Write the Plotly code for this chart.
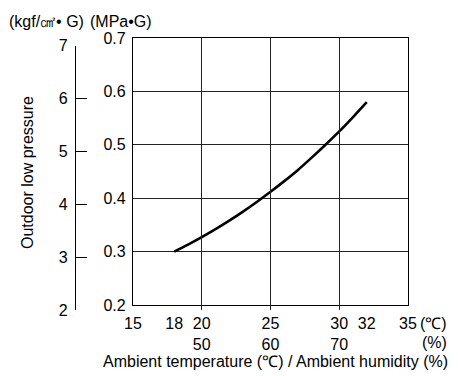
import plotly.graph_objects as go

# curve
temp_c = [18, 19, 20, 21, 22, 23, 24, 25, 26, 27, 28, 29, 30, 31, 32]
low_mpa = [0.300, 0.313, 0.327, 0.342, 0.358, 0.375, 0.393, 0.412,
           0.432, 0.453, 0.476, 0.500, 0.525, 0.552, 0.580]

x_ticks = [15, 18, 20, 25, 30, 32, 35]
x_labels = ['15', '18', '20<br>50', '25<br>60', '30<br>70', '32', '35']
x_grid = [20, 25, 30]

mpa_ticks = [0.2, 0.3, 0.4, 0.5, 0.6, 0.7]
kgf_ticks = [2, 3, 4, 5, 6, 7]
KGF_PER_MPA = 1 / 0.0981

font = dict(family='Liberation Sans, Arial, sans-serif', size=16, color='black')

fig = go.Figure()
fig.add_trace(go.Scatter(x=temp_c, y=low_mpa, mode='lines',
                         line=dict(color='black', width=2.6, shape='spline'),
                         showlegend=False, hoverinfo='skip'))
# same curve in kgf/cm2 so the second scale gets drawn (kept invisible)
fig.add_trace(go.Scatter(x=temp_c, y=[v * KGF_PER_MPA for v in low_mpa],
                         yaxis='y2', mode='lines', opacity=0,
                         line=dict(color='black', width=0),
                         showlegend=False, hoverinfo='skip'))

# page body has an 8px margin, so the figure is 8px smaller each way
fig.update_layout(
    width=450, height=368,
    margin=dict(l=67, r=50, t=30, b=66),
    paper_bgcolor='white', plot_bgcolor='rgba(0,0,0,0)',
    font=font,
    xaxis=dict(range=[15, 35], domain=[0.1742, 1],
               tickmode='array', tickvals=x_ticks, ticktext=x_labels,
               showgrid=False, zeroline=False,
               showline=True, mirror=True, linecolor='black', linewidth=1.3,
               ticks='outside', ticklen=0, ticklabelstandoff=4,
               minor=dict(tickmode='array', tickvals=x_grid, showgrid=True,
                          gridcolor='#222222', gridwidth=1.2, ticks=''),
               tickfont=font),
    yaxis=dict(range=[0.2, 0.7], domain=[0.0184, 1],
               tickmode='array', tickvals=mpa_ticks,
               ticktext=[f'{v:.1f}' for v in mpa_ticks],
               showgrid=True, gridcolor='#222222', gridwidth=1.2, zeroline=False,
               showline=True, mirror=True, linecolor='black', linewidth=1.3,
               ticks='', ticklabelstandoff=3, tickfont=font),
    yaxis2=dict(range=[2, 7], domain=[0, 0.9717],
                anchor='free', position=0, side='left',
                tickmode='array', tickvals=kgf_ticks,
                showgrid=False, zeroline=False,
                showline=True, linecolor='black', linewidth=1.3,
                ticks='inside', ticklen=11, tickcolor='black', tickwidth=1.3,
                ticklabelstandoff=4, tickfont=font),
)

annotations = [
    dict(text='(kgf/㎠• G)', x=7, y=22, xanchor='left'),
    dict(text='(MPa•G)', x=88, y=22, xanchor='left'),
    dict(text='(℃)', x=418, y=323, xanchor='left'),
    dict(text='(%)', x=434, y=342, xanchor='center'),
    dict(text='Ambient temperature (℃) / Ambient humidity (%)', x=275, y=361, xanchor='center'),
]
for a in annotations:
    fig.add_annotation(text=a['text'], xref='paper', yref='paper',
                       x=(a['x'] - 75) / 333, y=(310 - a['y']) / 272,
                       xanchor=a['xanchor'], yanchor='middle',
                       showarrow=False, font=font)

fig.add_annotation(text='Outdoor low pressure', xref='paper', yref='paper',
                   x=(27 - 75) / 333, y=(310 - 173) / 272, textangle=-90,
                   xanchor='center', yanchor='middle', showarrow=False, font=font)

fig.write_html('out.html')
